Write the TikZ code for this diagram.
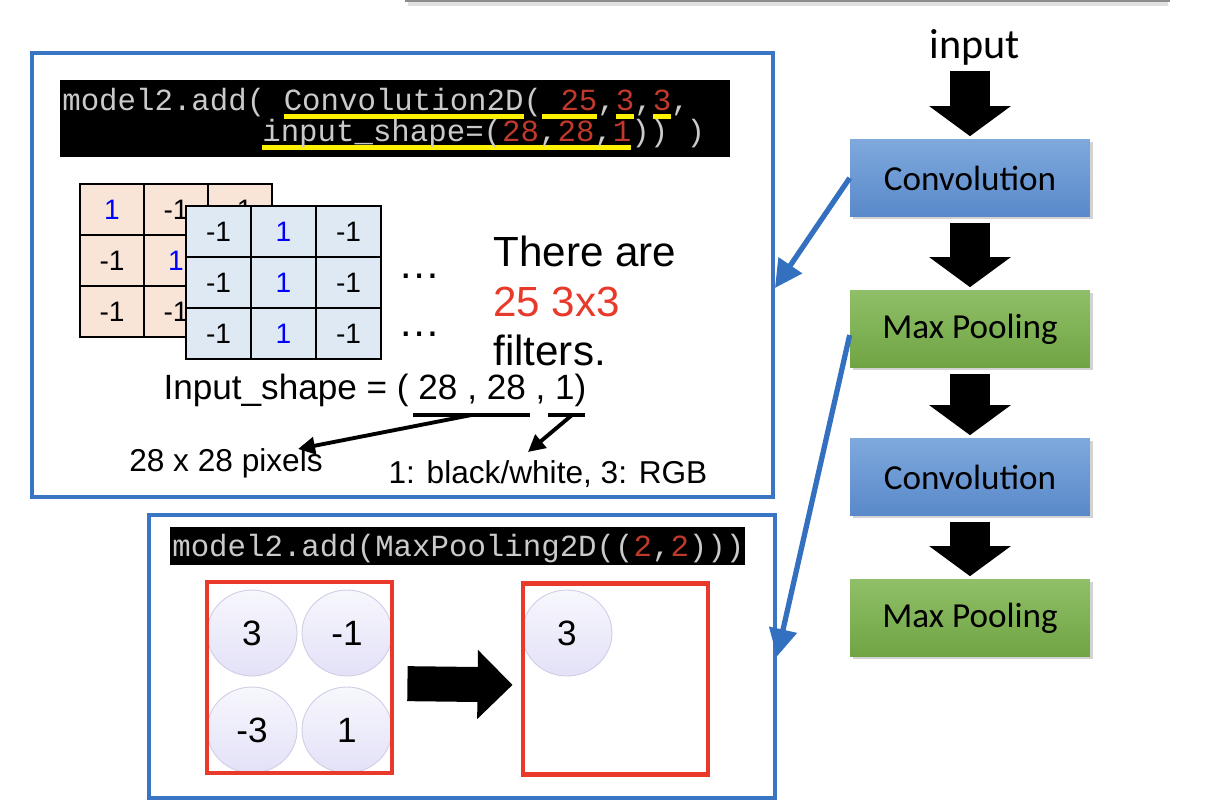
\documentclass[tikz,border=0pt]{standalone}
\usepackage{fontspec}
\setmainfont{Liberation Sans}
\newfontfamily\calfont{Carlito}
\newfontfamily\codefont{Liberation Mono}
\usetikzlibrary{arrows.meta,positioning,calc,shapes.geometric,shadows}

\definecolor{PanelBlue}{HTML}{3A75C4}
\definecolor{LinkBlue}{HTML}{3470C0}
\definecolor{FrameRed}{HTML}{E8392B}
\definecolor{CodeGrey}{HTML}{CACACA}
\definecolor{CodeRed}{HTML}{C0392B}
\definecolor{CodeYellow}{HTML}{FFF200}
\definecolor{FilterPeach}{HTML}{F8E5D8}
\definecolor{FilterBlue}{HTML}{DFE9F4}
\definecolor{ConvTop}{HTML}{7FA9DD}
\definecolor{ConvBottom}{HTML}{5989CA}
\definecolor{PoolTop}{HTML}{8FBF68}
\definecolor{PoolBottom}{HTML}{70A443}
\definecolor{BallTop}{HTML}{F7F7FD}
\definecolor{BallBottom}{HTML}{E3E1F7}
\definecolor{BallEdge}{HTML}{CFCDE6}

\newcommand{\rd}[1]{\textcolor{CodeRed}{#1}}
\newcommand{\yul}[1]{\setbox0=\hbox{#1}\rlap{\textcolor{CodeYellow}{\rule[-5pt]{\wd0}{2.6pt}}}\box0}

\tikzset{
    % Panel frames
    panel/.style={
        draw=PanelBlue,
        line width=2.3pt,
        inner sep=0pt
    },
    % Code strips
    codebar/.style={
        fill=black,
        inner sep=0pt
    },
    codetext/.style={
        text=CodeGrey,
        font=\codefont\fontsize{17.5}{20}\selectfont,
        inner sep=0pt,
        anchor=base west
    },
    % Filter cells
    peachcell/.style={
        draw,
        line width=0.8pt,
        fill=FilterPeach,
        minimum width=1.28cm,
        minimum height=1.02cm,
        inner sep=0pt,
        font=\fontsize{16}{18}\selectfont
    },
    bluecell/.style={
        peachcell,
        fill=FilterBlue,
        minimum width=1.3cm
    },
    % Pooling values
    ball/.style={
        ellipse,
        draw=BallEdge,
        line width=0.5pt,
        top color=BallTop,
        bottom color=BallBottom,
        minimum width=1.8cm,
        minimum height=1.72cm,
        font=\fontsize{20}{22}\selectfont
    },
    poolframe/.style={
        draw=FrameRed,
        line width=2.8pt,
        minimum width=3.7cm,
        minimum height=3.82cm
    },
    % Layer boxes
    layerbox/.style={
        minimum width=4.8cm,
        minimum height=1.54cm,
        font=\calfont\fontsize{20}{22}\selectfont,
        drop shadow={shadow xshift=1.5pt, shadow yshift=-1.5pt, opacity=0.35}
    },
    convnode/.style={
        layerbox,
        top color=ConvTop,
        bottom color=ConvBottom
    },
    poolnode/.style={
        layerbox,
        top color=PoolTop,
        bottom color=PoolBottom
    },
    % Arrows
    downarrow/.style={
        line width=0.8cm,
        -{Triangle[width=1.6cm, length=0.6cm]},
        shorten <=0.12cm,
        shorten >=0.06cm
    },
    sidearrow/.style={
        line width=0.7cm,
        -{Triangle[width=1.34cm, length=0.7cm]},
        shorten <=0.26cm,
        shorten >=0.16cm
    },
    linkarrow/.style={
        draw=LinkBlue,
        line width=3pt,
        -{Triangle[width=0.55cm, length=0.55cm]}
    },
    pointer/.style={
        line width=2.2pt,
        -{Triangle[width=0.34cm, length=0.34cm]}
    },
    underbar/.style={
        line width=2.8pt
    }
}

\begin{document}
\begin{tikzpicture}[x=0.02cm, y=-0.02cm]
    \useasboundingbox (0,0) rectangle (1205,806);

    % Edge of the slide box above
    \fill[black!12] (408,2) rectangle (1168,6);
    \fill[black!45] (405,-2) rectangle (1170,2);

    % Panels
    \node[panel, minimum width=14.82cm, minimum height=8.88cm] (panelA) at (402.5,275) {};
    \node[panel, minimum width=12.52cm, minimum height=5.66cm] (panelB) at (462,656.5) {};

    % Convolution code
    \node[codebar, minimum width=13.4cm, minimum height=1.54cm] (codeA) at (395,118.5) {};
    \node[codetext] (lineA) at (62,110) {model2.add( \yul{Convolution2D}(\yul{ \rd{25}},\yul{\rd{3}},\yul{\rd{3}},};
    \node[codetext] (lineB) at (262,141) {\yul{input\_shape=(\rd{28},\rd{28},\rd{1}})) )};

    % Filters
    \foreach \tc/\v [count=\i from 0] in {blue/1,black/-1,black/-1,black/-1,blue/1,black/-1,black/-1,black/-1,blue/1}{
        \pgfmathtruncatemacro\gr{\i/3}
        \pgfmathtruncatemacro\gc{\i-3*\gr}
        \node[peachcell, text=\tc] (p-\gr-\gc) at ({112+64*\gc},{209.5+51*\gr}) {\v};
    }
    \foreach \tc/\v [count=\i from 0] in {black/-1,blue/1,black/-1,black/-1,blue/1,black/-1,black/-1,blue/1,black/-1}{
        \pgfmathtruncatemacro\gr{\i/3}
        \pgfmathtruncatemacro\gc{\i-3*\gr}
        \node[bluecell, text=\tc] (q-\gr-\gc) at ({218.5+65*\gc},{231.5+51*\gr}) {\v};
    }
    \node[font=\fontsize{24}{24}\selectfont, inner sep=0pt] (dotsA) at (420,276) {\ldots};
    \node[font=\fontsize{24}{24}\selectfont, inner sep=0pt] (dotsB) at (420,334) {\ldots};
    \node[anchor=west, align=left, inner sep=0pt, font=\fontsize{24}{28.3}\selectfont] (filt) at (493,301)
        {There are\\\textcolor{FrameRed}{25 3x3}\\filters.};

    % Input shape
    \node[font=\fontsize{20}{22}\selectfont, inner sep=0pt] (ishape) at (375,390) {Input\_shape = ( 28 , 28 , 1)};
    \coordinate (ulA) at (413,415);
    \coordinate (ulB) at (530,415);
    \coordinate (ulC) at (548,415);
    \coordinate (ulD) at (585,415);
    \draw[underbar] (ulA) -- (ulB);
    \draw[underbar] (ulC) -- (ulD);
    \node[font=\fontsize{18}{20}\selectfont, inner sep=0pt] (pix) at (226,463) {28 x 28 pixels};
    \node[font=\fontsize{18}{20}\selectfont, inner sep=0pt] (rgb) at (548,474) {1: black/white, 3: RGB};
    \coordinate (tipA) at (298,449);
    \coordinate (tipB) at (528,452);
    \draw[pointer] ($(ulA)!0.5!(ulB)$) -- (tipA);
    \draw[pointer] ($(ulC)!0.65!(ulD)$) -- (tipB);

    % Max pooling code
    \node[codebar, minimum width=11.5cm, minimum height=0.76cm] (codeB) at (457.5,546) {};
    \node[codetext] (lineC) at (172,556) {model2.add(MaxPooling2D((\rd{2},\rd{2})))};

    % Pooling example
    \node[ball] (bA) at (252,633) {3};
    \node[ball] (bB) at (347,633) {-1};
    \node[ball] (bC) at (252,730) {-3};
    \node[ball] (bD) at (347,730) {1};
    \node[ball] (bE) at (567,633) {3};
    \node[poolframe] (frameA) at (299.5,677.5) {};
    \node[poolframe] (frameB) at (615.5,679) {};
    \draw[sidearrow] ([yshift=-0.12cm]frameA.east) -- ([yshift=-0.12cm]frameB.west);

    % Network layers
    \node[font=\calfont\fontsize{24}{26}\selectfont, inner sep=0pt] (input) at (975,47) {input};
    \node[convnode] (conv1) at (970,178) {Convolution};
    \node[poolnode] (pool1) at (970,329) {Max Pooling};
    \node[convnode] (conv2) at (970,477) {Convolution};
    \node[poolnode] (pool2) at (970,618) {Max Pooling};
    \draw[downarrow] (input.south -| conv1.north) -- (conv1.north);
    \draw[downarrow] (conv1) -- (pool1);
    \draw[downarrow] (pool1) -- (conv2);
    \draw[downarrow] (conv2) -- (pool2);

    % Links to the panels
    \draw[linkarrow] (conv1.west) -- ([yshift=-0.26cm]panelA.east);
    \draw[linkarrow] ([yshift=-0.12cm]pool1.west) -- (panelB.east);
\end{tikzpicture}
\end{document}
